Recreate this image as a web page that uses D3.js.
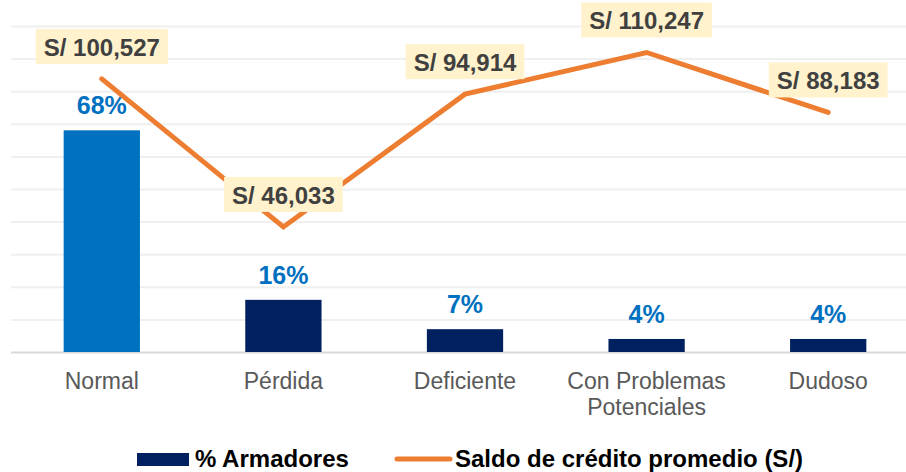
<!DOCTYPE html>
<html>
<head>
<meta charset="utf-8">
<script src="https://cdn.jsdelivr.net/npm/d3@7"></script>
<style>
  body { margin: 0; background: #fff; }
  text { font-family: "Liberation Sans", Arial, sans-serif; }
</style>
</head>
<body>
<div id="chart"></div>
<script>
// data
const categories = ["Normal", "Pérdida", "Deficiente", "Con Problemas Potenciales", "Dudoso"];
const armadores = [0.68, 0.16, 0.07, 0.04, 0.04];
const saldo = [100527, 46033, 94914, 110247, 88183];
const barColors = ["#0070C0", "#002060", "#002060", "#002060", "#002060"];
const legendLabels = ["% Armadores", "Saldo de crédito promedio (S/)"];

const W = 906, H = 472;
const plot = {left: 11, right: 919, top: 26, bottom: 352};

const svg = d3.select("#chart")
  .append("svg")
    .attr("width", W)
    .attr("height", H);

// scales
const x = d3.scaleBand()
  .domain(categories)
  .range([plot.left, plot.right])
  .paddingInner(0.58)
  .paddingOuter(0.29);

const yPct = d3.scaleLinear().domain([0, 1]).range([plot.bottom, plot.top]);
const ySaldo = d3.scaleLinear().domain([0, 120000]).range([plot.bottom, plot.top]);

// grid
const grid = svg.append("g")
  .attr("transform", `translate(${plot.left},0)`)
  .call(d3.axisLeft(yPct).ticks(10).tickSize(-(plot.right - plot.left)).tickFormat(""));
grid.select(".domain").remove();
grid.selectAll("line")
  .style("stroke", "#EFEFEF")
  .style("stroke-width", 2);
grid.selectAll(".tick")
  .filter(d => d === 0)
  .select("line")
  .style("stroke", "#D9D9D9");

// x axis labels
const xAxis = svg.append("g")
  .attr("transform", `translate(0,${plot.bottom})`)
  .call(d3.axisBottom(x).tickSize(0).tickPadding(21));
xAxis.select(".domain").remove();
xAxis.selectAll(".tick text")
  .style("font-size", "23px")
  .style("fill", "#595959")
  .each(function(d) {
    const t = d3.select(this);
    const words = d.split(" ");
    if (words.length > 2) {
      t.text(null);
      t.append("tspan").attr("x", 0).text(words.slice(0, 2).join(" "));
      t.append("tspan").attr("x", 0).attr("dy", "1.1em").text(words.slice(2).join(" "));
    }
  });

// bars
svg.append("g")
  .selectAll("rect")
  .data(categories)
  .enter()
  .append("rect")
    .attr("x", d => x(d))
    .attr("y", (d, i) => yPct(armadores[i]))
    .attr("width", x.bandwidth())
    .attr("height", (d, i) => plot.bottom - yPct(armadores[i]))
    .attr("fill", (d, i) => barColors[i]);

// bar labels
svg.append("g")
  .selectAll("text")
  .data(categories)
  .enter()
  .append("text")
    .attr("x", d => x(d) + x.bandwidth() / 2)
    .attr("y", (d, i) => yPct(armadores[i]) - 16)
    .attr("text-anchor", "middle")
    .style("font-size", "25px")
    .style("font-weight", "bold")
    .style("fill", "#0070C0")
    .text((d, i) => Math.round(armadores[i] * 100) + "%");

// line
const line = d3.line()
  .x((d, i) => x(categories[i]) + x.bandwidth() / 2)
  .y(d => ySaldo(d));

svg.append("path")
  .datum(saldo)
  .attr("d", line)
  .attr("fill", "none")
  .attr("stroke", "#ED7D31")
  .attr("stroke-width", 5)
  .attr("stroke-linecap", "round")
  .attr("stroke-linejoin", "miter");

// line labels
const fmt = d3.format(",");
const lbl = svg.append("g")
  .selectAll("g")
  .data(saldo)
  .enter()
  .append("g")
    .attr("transform", (d, i) => `translate(${x(categories[i]) + x.bandwidth() / 2},${ySaldo(d)})`);

lbl.append("rect").attr("fill", "#FFF2CC");
lbl.append("text")
  .attr("x", 0)
  .attr("y", -23)
  .attr("text-anchor", "middle")
  .style("font-size", "24px")
  .style("font-weight", "bold")
  .style("fill", "#404040")
  .text(d => "S/ " + fmt(d));
lbl.each(function() {
  const g = d3.select(this);
  const w = g.select("text").node().getComputedTextLength();
  g.select("rect")
    .attr("x", -w / 2 - 8)
    .attr("y", -50)
    .attr("width", w + 16)
    .attr("height", 35);
});

// legend
svg.append("rect")
  .attr("x", 137).attr("y", 453)
  .attr("width", 52).attr("height", 13)
  .attr("fill", "#002060");
svg.append("text")
  .attr("x", 195).attr("y", 467)
  .text(legendLabels[0])
  .style("font-size", "24px").style("font-weight", "bold").style("fill", "#000");
svg.append("line")
  .attr("x1", 397).attr("x2", 450)
  .attr("y1", 459).attr("y2", 459)
  .attr("stroke", "#ED7D31").attr("stroke-width", 5)
  .attr("stroke-linecap", "round");
svg.append("text")
  .attr("x", 455).attr("y", 467)
  .text(legendLabels[1])
  .style("font-size", "24px").style("font-weight", "bold").style("fill", "#000");
</script>
</body>
</html>
